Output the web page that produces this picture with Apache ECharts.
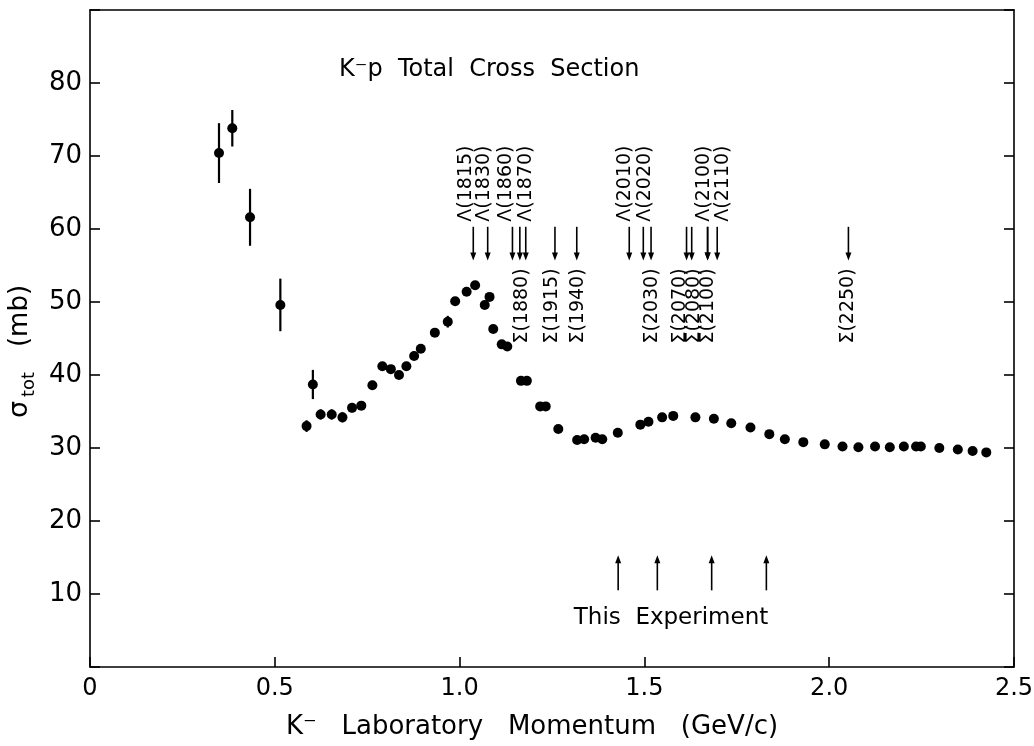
<!DOCTYPE html>
<html>
<head>
<meta charset="utf-8">
<title>K⁻p Total Cross Section</title>
<script src="https://cdn.jsdelivr.net/npm/echarts@6/dist/echarts.min.js"></script>
<style>
  html, body { margin: 0; padding: 0; background: #fff; }
  #chart { width: 1034px; height: 746px; }
</style>
</head>
<body>
<div id="chart"></div>
<script>
// K⁻ laboratory momentum (GeV/c) and total cross section (mb) with errors
const momentum = [0.349,0.385,0.433,0.515,0.586,0.603,0.624,0.654,0.683,0.709,
  0.734,0.764,0.791,0.814,0.836,0.856,0.877,0.895,0.933,0.968,
  0.988,1.019,1.042,1.068,1.081,1.091,1.114,1.129,1.166,1.182,
  1.218,1.233,1.267,1.318,1.337,1.368,1.386,1.428,1.489,1.511,
  1.548,1.578,1.638,1.688,1.735,1.787,1.838,1.880,1.930,1.988,
  2.036,2.079,2.124,2.164,2.202,2.235,2.248,2.298,2.348,2.388,2.425];
const sigmaTot = [70.4,73.8,61.6,49.6,33.0,38.7,34.6,34.6,34.2,35.5,
  35.8,38.6,41.2,40.8,40.0,41.2,42.6,43.6,45.8,47.3,
  50.1,51.4,52.3,49.6,50.7,46.3,44.2,43.9,39.2,39.2,
  35.7,35.7,32.6,31.1,31.2,31.4,31.2,32.1,33.2,33.6,
  34.2,34.4,34.2,34.0,33.4,32.8,31.9,31.2,30.8,30.5,
  30.2,30.1,30.2,30.1,30.2,30.2,30.2,30.0,29.8,29.6,29.4];
const sigmaErr = [4.1,2.5,3.9,3.6,0.8,2.0,0.7,0.7,0.7,0.6,
  0.5,0.6,0,0,0,0,0,0,0,0.8,
  0,0,0,0,0,0,0,0,0,0,
  0,0,0,0,0,0,0,0,0,0,
  0,0,0,0,0,0,0,0,0,0,
  0,0,0,0,0,0,0,0,0,0,0];

// Known resonances and the beam momentum at which each is reached
const lambdaNames = ['Λ(1815)','Λ(1830)','Λ(1860)','Λ(1870)','Λ(2010)','Λ(2020)','Λ(2100)','Λ(2110)'];
const lambdaMomentum = [1.037,1.076,1.143,1.163,1.459,1.497,1.671,1.697];
const sigmaNames = ['Σ(1880)','Σ(1915)','Σ(1940)','Σ(2030)','Σ(2070)','Σ(2080)','Σ(2100)','Σ(2250)'];
const sigmaMomentum = [1.179,1.258,1.317,1.518,1.614,1.628,1.671,2.052];
// Momenta covered by this experiment
const experimentMomentum = [1.429,1.535,1.682,1.830];

// Axis ticks
const xTicks = ['0','0.5','1.0','1.5','2.0','2.5'];
const yTicks = [10,20,30,40,50,60,70,80];

// Label placement along the momentum axis (spread apart where arrows crowd)
const lambdaLabelAt = [1.017,1.067,1.127,1.180,1.448,1.502,1.661,1.713];
const sigmaLabelAt = [1.168,1.249,1.321,1.520,1.596,1.634,1.673,2.050];

const FONT = 'DejaVu Sans';
const INK = '#000';

const points = momentum.map((p, i) => [p, sigmaTot[i]]);
const errBars = momentum.map((p, i) => [p, sigmaTot[i] - sigmaErr[i], sigmaTot[i] + sigmaErr[i]]);

// arrow from (x, yTail) to (x, yTip) in data units
function arrowShape(api, x, yTail, yTip) {
  const a = api.coord([x, yTail]);
  const b = api.coord([x, yTip]);
  const dir = b[1] > a[1] ? 1 : -1;
  const head = 8, half = 3;
  return [
    { type: 'line', shape: { x1: a[0], y1: a[1], x2: b[0], y2: b[1] - dir * head * 0.6 },
      style: { stroke: INK, lineWidth: 1.6 } },
    { type: 'polygon', shape: { points: [[b[0], b[1]], [b[0] - half, b[1] - dir * head], [b[0] + half, b[1] - dir * head]] },
      style: { fill: INK } }
  ];
}

function vText(api, x, yStart, text) {
  const c = api.coord([x, yStart]);
  return { type: 'text', x: c[0], y: c[1], rotation: Math.PI / 2,
    style: { text: text, fill: INK, font: '19px "' + FONT + '"', align: 'left', verticalAlign: 'middle' } };
}

const resonanceData = [];
lambdaNames.forEach((n, i) => resonanceData.push([lambdaMomentum[i], lambdaLabelAt[i], 0]));
sigmaNames.forEach((n, i) => resonanceData.push([sigmaMomentum[i], sigmaLabelAt[i], 1]));
const resonanceText = lambdaNames.concat(sigmaNames);

const chart = echarts.init(document.getElementById('chart'), null, { renderer: 'canvas' });

const option = {
  backgroundColor: '#fff',
  animation: false,
  textStyle: { fontFamily: FONT, color: INK },
  title: {
    text: 'K⁻p  Total  Cross  Section',
    left: 334, top: 53,
    textStyle: { fontFamily: FONT, fontSize: 24, fontWeight: 'normal', color: INK }
  },
  grid: { left: 90, right: 20, top: 10, bottom: 79, outerBoundsMode: 'none', containLabel: false },
  xAxis: [{
    type: 'value', min: 0, max: 2.5, interval: 0.5,
    name: 'K⁻   Laboratory   Momentum   (GeV/c)',
    nameLocation: 'middle', nameGap: 47,
    nameTextStyle: { fontFamily: FONT, fontSize: 26, color: INK, padding: [0, 40, 0, 0] },
    axisLine: { show: true, onZero: false, lineStyle: { color: INK, width: 1.6 } },
    axisTick: { show: true, inside: true, length: 10, lineStyle: { color: INK, width: 1.6 } },
    axisLabel: { margin: 10, fontFamily: FONT, fontSize: 24, color: INK,
      formatter: v => xTicks[Math.round(v / 0.5)] },
    splitLine: { show: false }
  }, {
    type: 'value', min: 0, max: 2.5, position: 'top',
    axisLine: { show: true, onZero: false, lineStyle: { color: INK, width: 1.6 } },
    axisTick: { show: false }, axisLabel: { show: false }, splitLine: { show: false }
  }],
  yAxis: [{
    type: 'value', min: 0, max: 90, interval: 10,
    name: '{s|σ}{b|tot}{m|   (mb)}',
    nameLocation: 'middle', nameRotate: 90, nameGap: 46,
    nameTextStyle: {
      rich: {
        s: { fontFamily: FONT, fontSize: 27, color: INK, lineHeight: 36 },
        b: { fontFamily: FONT, fontSize: 18, color: INK, verticalAlign: 'bottom', lineHeight: 18, padding: [0, 0, 0, 4] },
        m: { fontFamily: FONT, fontSize: 26, color: INK, lineHeight: 36, padding: [0, 26, 0, 0] }
      }
    },
    axisLine: { show: true, onZero: false, lineStyle: { color: INK, width: 1.6 } },
    axisTick: { show: true, inside: true, length: 10, lineStyle: { color: INK, width: 1.6 } },
    axisLabel: { margin: 8, fontFamily: FONT, fontSize: 26, color: INK,
      formatter: v => (yTicks.indexOf(v) >= 0 ? String(v) : '') },
    splitLine: { show: false }
  }, {
    type: 'value', min: 0, max: 90, interval: 10, position: 'right',
    axisLine: { show: true, onZero: false, lineStyle: { color: INK, width: 1.6 } },
    axisTick: { show: true, inside: true, length: 10, lineStyle: { color: INK, width: 1.6 } },
    axisLabel: { show: false }, splitLine: { show: false }
  }],
  series: [
    {
      // vertical error bars
      type: 'custom', name: 'errors', z: 2,
      data: errBars,
      renderItem: (params, api) => {
        const x = api.value(0), lo = api.value(1), hi = api.value(2);
        if (hi - lo <= 0) return null;
        const a = api.coord([x, lo]), b = api.coord([x, hi]);
        return { type: 'line', shape: { x1: a[0], y1: a[1], x2: b[0], y2: b[1] },
          style: { stroke: INK, lineWidth: 2.2 } };
      }
    },
    {
      type: 'scatter', name: 'σ tot', z: 3,
      data: points, symbol: 'circle', symbolSize: 10,
      itemStyle: { color: INK, opacity: 1 }
    },
    {
      // resonance arrows with their rotated labels
      type: 'custom', name: 'resonances', z: 4,
      data: resonanceData,
      renderItem: (params, api) => {
        const x = api.value(0), lx = api.value(1), kind = api.value(2);
        const children = arrowShape(api, x, 60.3, 55.7);
        const txt = resonanceText[params.dataIndex];
        if (kind === 0) children.push(vText(api, lx, 61.0, txt));
        else children.push(vText(api, lx, 44.3, txt));
        return { type: 'group', children: children };
      }
    },
    {
      // upward arrows marking this experiment's momenta
      type: 'custom', name: 'experiment', z: 4,
      data: experimentMomentum.map(p => [p]),
      renderItem: (params, api) => {
        const children = arrowShape(api, api.value(0), 10.5, 15.3);
        if (params.dataIndex === 0) {
          const c = api.coord([1.572, 6.7]);
          children.push({ type: 'text', x: c[0], y: c[1],
            style: { text: 'This  Experiment', fill: INK, font: '23px "' + FONT + '"', align: 'center', verticalAlign: 'middle' } });
        }
        return { type: 'group', children: children };
      }
    }
  ]
};

chart.setOption(option);
</script>
</body>
</html>
